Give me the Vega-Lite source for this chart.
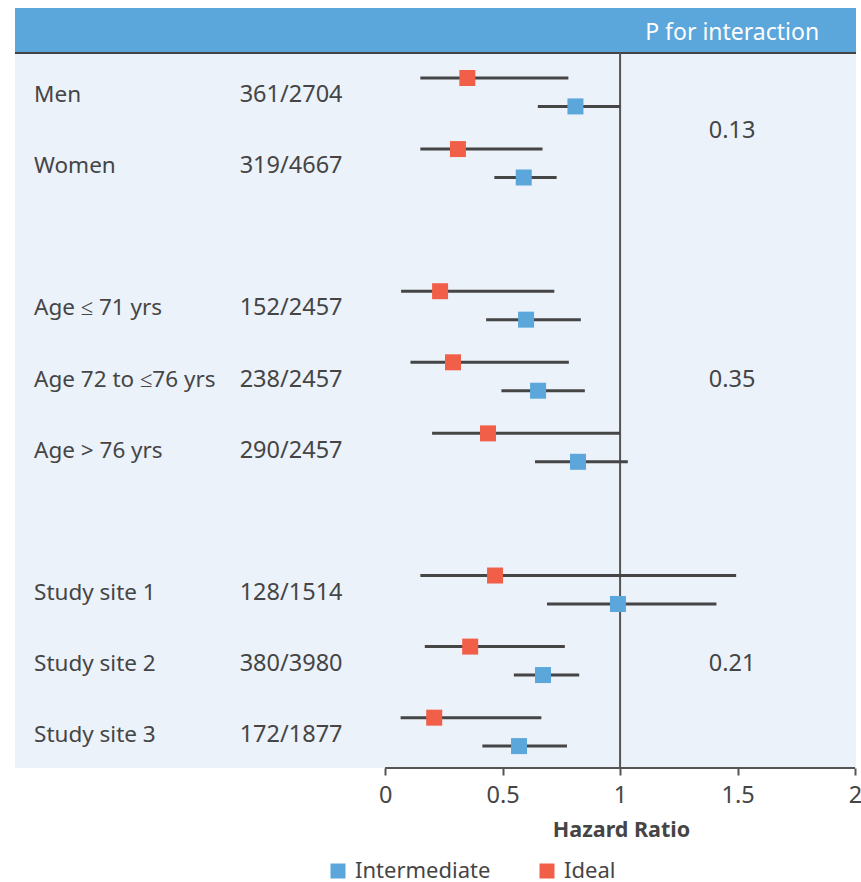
{
  "$schema": "https://vega.github.io/schema/vega-lite/v6.json",
  "width": 841,
  "height": 760,
  "padding": {"left": 14, "top": 8, "right": 0, "bottom": 0},
  "background": "white",
  "config": {
    "view": {"fill": "#EBF2FA", "stroke": null},
    "font": "Noto Sans",
    "text": {"font": "Noto Sans", "fontSize": 22.5, "color": "#454545"}
  },
  "datasets": {
    "est": [
      {"label": "Men", "tier": "Ideal", "row": 0, "hr": 0.35, "lo": 0.15, "hi": 0.78},
      {"label": "Men", "tier": "Intermediate", "row": 1, "hr": 0.81, "lo": 0.65, "hi": 1.0},
      {"label": "Women", "tier": "Ideal", "row": 2.5, "hr": 0.31, "lo": 0.15, "hi": 0.67},
      {"label": "Women", "tier": "Intermediate", "row": 3.5, "hr": 0.59, "lo": 0.465, "hi": 0.73},
      {"label": "Age ≤ 71 yrs", "tier": "Ideal", "row": 7.5, "hr": 0.234, "lo": 0.068, "hi": 0.72},
      {"label": "Age ≤ 71 yrs", "tier": "Intermediate", "row": 8.5, "hr": 0.60, "lo": 0.43, "hi": 0.833},
      {"label": "Age 72 to ≤76 yrs", "tier": "Ideal", "row": 10, "hr": 0.289, "lo": 0.108, "hi": 0.782},
      {"label": "Age 72 to ≤76 yrs", "tier": "Intermediate", "row": 11, "hr": 0.651, "lo": 0.495, "hi": 0.85},
      {"label": "Age > 76 yrs", "tier": "Ideal", "row": 12.5, "hr": 0.438, "lo": 0.20, "hi": 1.0},
      {"label": "Age > 76 yrs", "tier": "Intermediate", "row": 13.5, "hr": 0.821, "lo": 0.638, "hi": 1.033},
      {"label": "Study site 1", "tier": "Ideal", "row": 17.5, "hr": 0.468, "lo": 0.15, "hi": 1.494},
      {"label": "Study site 1", "tier": "Intermediate", "row": 18.5, "hr": 0.991, "lo": 0.689, "hi": 1.41},
      {"label": "Study site 2", "tier": "Ideal", "row": 20, "hr": 0.362, "lo": 0.169, "hi": 0.765},
      {"label": "Study site 2", "tier": "Intermediate", "row": 21, "hr": 0.672, "lo": 0.548, "hi": 0.826},
      {"label": "Study site 3", "tier": "Ideal", "row": 22.5, "hr": 0.209, "lo": 0.066, "hi": 0.665},
      {"label": "Study site 3", "tier": "Intermediate", "row": 23.5, "hr": 0.57, "lo": 0.414, "hi": 0.774}
    ],
    "labels": [
      {"label": "Men", "n": "361/2704", "row": 0.5},
      {"label": "Women", "n": "319/4667", "row": 3},
      {"label": "Age ≤ 71 yrs", "n": "152/2457", "row": 8},
      {"label": "Age 72 to ≤76 yrs", "n": "238/2457", "row": 10.5},
      {"label": "Age > 76 yrs", "n": "290/2457", "row": 13},
      {"label": "Study site 1", "n": "128/1514", "row": 18},
      {"label": "Study site 2", "n": "380/3980", "row": 20.5},
      {"label": "Study site 3", "n": "172/1877", "row": 23}
    ],
    "pvals": [
      {"p": "0.13", "row": 1.75},
      {"p": "0.35", "row": 10.5},
      {"p": "0.21", "row": 20.5}
    ],
    "one": [{"title": "P for interaction"}]
  },
  "layer": [
    {
      "data": {"name": "one"},
      "mark": {"type": "rect", "color": "#5BA6DA"},
      "encoding": {
        "x": {"datum": -1.575, "type": "quantitative", "scale": {"domain": [-1.575, 2.004], "nice": false, "zero": false},
          "axis": {"values": [0, 0.5, 1, 1.5, 2], "format": "~g", "domain": false, "grid": false, "tickSize": 7, "tickWidth": 2, "tickColor": "#555555",
            "labelFontSize": 23.5, "labelColor": "#454545", "labelFont": "Noto Sans", "labelPadding": 8, "labelFlush": false,
            "title": "Hazard Ratio", "titleFontSize": 21.5, "titleFontWeight": "bold", "titleColor": "#454545", "titleFont": "Noto Sans",
            "titleX": 606, "titleAnchor": "middle", "titlePadding": 13}},
        "x2": {"datum": 2.004},
        "y": {"datum": -2.462, "type": "quantitative", "scale": {"domain": [-2.462, 24.27], "nice": false, "zero": false, "reverse": true}, "axis": null},
        "y2": {"datum": -0.879}
      }
    },
    {
      "data": {"name": "one"},
      "mark": {"type": "text", "color": "white", "fontSize": 23, "align": "center", "baseline": "middle", "dy": 1},
      "encoding": {
        "x": {"datum": 1.477, "type": "quantitative"},
        "y": {"datum": -1.62, "type": "quantitative"},
        "text": {"field": "title"}
      }
    },
    {
      "data": {"name": "one"},
      "mark": {"type": "rule", "color": "#444444", "strokeWidth": 2},
      "encoding": {
        "x": {"datum": -1.575, "type": "quantitative"},
        "x2": {"datum": 2.004},
        "y": {"datum": -0.879, "type": "quantitative"}
      }
    },
    {
      "data": {"name": "one"},
      "mark": {"type": "rule", "color": "#555555", "strokeWidth": 2},
      "encoding": {
        "x": {"datum": 1, "type": "quantitative"},
        "y": {"datum": -0.879, "type": "quantitative"},
        "y2": {"datum": 24.27}
      }
    },
    {
      "data": {"name": "one"},
      "mark": {"type": "rule", "color": "#555555", "strokeWidth": 2},
      "encoding": {
        "x": {"datum": 0, "type": "quantitative"},
        "x2": {"datum": 2},
        "y": {"datum": 24.27, "type": "quantitative"}
      }
    },
    {
      "data": {"name": "est"},
      "mark": {"type": "rule", "color": "#454545", "strokeWidth": 3},
      "encoding": {
        "x": {"field": "lo", "type": "quantitative"},
        "x2": {"field": "hi"},
        "y": {"field": "row", "type": "quantitative"}
      }
    },
    {
      "data": {"name": "est"},
      "mark": {"type": "point", "shape": "square", "filled": true, "opacity": 1, "size": 256, "strokeWidth": 0},
      "encoding": {
        "x": {"field": "hr", "type": "quantitative"},
        "y": {"field": "row", "type": "quantitative"},
        "color": {"field": "tier", "type": "nominal",
          "scale": {"domain": ["Intermediate", "Ideal"], "range": ["#5BA6DA", "#F25F48"]},
          "legend": {"orient": "none", "legendX": 312, "legendY": 852, "direction": "horizontal", "title": null,
            "symbolType": "square", "symbolSize": 225, "symbolStrokeWidth": 0, "symbolOpacity": 1,
            "labelFontSize": 22, "labelColor": "#454545", "labelFont": "Noto Sans", "labelOffset": 6, "columnPadding": 45}}
      }
    },
    {
      "data": {"name": "labels"},
      "mark": {"type": "text", "align": "left", "baseline": "middle", "dy": 3},
      "encoding": {
        "x": {"datum": -1.494, "type": "quantitative"},
        "y": {"field": "row", "type": "quantitative"},
        "text": {"field": "label"}
      }
    },
    {
      "data": {"name": "labels"},
      "mark": {"type": "text", "align": "center", "baseline": "middle", "dy": 3, "fontSize": 23.5},
      "encoding": {
        "x": {"datum": -0.4, "type": "quantitative"},
        "y": {"field": "row", "type": "quantitative"},
        "text": {"field": "n"}
      }
    },
    {
      "data": {"name": "pvals"},
      "mark": {"type": "text", "align": "center", "baseline": "middle", "dy": 3, "fontSize": 23.5},
      "encoding": {
        "x": {"datum": 1.477, "type": "quantitative"},
        "y": {"field": "row", "type": "quantitative"},
        "text": {"field": "p"}
      }
    }
  ]
}
